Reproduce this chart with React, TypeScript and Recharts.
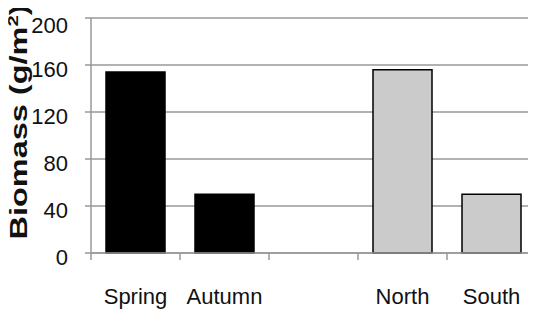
import React from "react";
import { BarChart, Bar, XAxis, YAxis, CartesianGrid, Cell, Label } from "recharts";

const categories = ["Spring", "Autumn", "", "North", "South"];
const biomass = [154, 50, null, 156, 50];
const barFills = ["#000000", "#000000", "#cbcbcb", "#cbcbcb", "#cbcbcb"];
const yTicks = [0, 40, 80, 120, 160, 200];
const boundaryTicks = [0, 1, 2, 3, 4, 5];

const data = categories.map((name, i) => ({ name, value: biomass[i], slot: i + 0.5 }));

const FONT = "'Liberation Sans', Arial, sans-serif";
const AXIS_GRAY = "#999999";

const YLabel = () => (
  <text
    x={19}
    y={114}
    transform="rotate(-90 19 114)"
    textAnchor="middle"
    fontFamily={FONT}
    fontWeight="bold"
    fontSize={24}
    fill="#111"
    textLength={235}
    lengthAdjust="spacingAndGlyphs"
  >
    Biomass (g/m
    <tspan fontSize={15} dy={-9}>2</tspan>
    <tspan dy={9}>)</tspan>
  </text>
);

const EmptyTick = () => <g />;

export default function App() {
  return (
    <BarChart
      width={536}
      height={305}
      data={data}
      margin={{ top: 10, right: 8, bottom: 58, left: 0 }}
      barCategoryGap={15}
    >
      <CartesianGrid vertical={false} stroke={AXIS_GRAY} strokeWidth={1.5} xAxisId="cat" />
      <XAxis
        xAxisId="bounds"
        dataKey="slot"
        type="number"
        domain={[0, 5]}
        allowDataOverflow={true}
        ticks={boundaryTicks}
        interval={0}
        height={1}
        axisLine={{ stroke: AXIS_GRAY, strokeWidth: 1.5 }}
        tickLine={{ stroke: AXIS_GRAY, strokeWidth: 1.5 }}
        tickSize={7}
        tick={EmptyTick}
      />
      <XAxis
        xAxisId="cat"
        dataKey="name"
        height={1}
        axisLine={false}
        tickLine={false}
        tickSize={0}
        tickMargin={34}
        interval={0}
        tick={{ fontSize: 22, fontFamily: FONT, fill: "#111" }}
      />
      <YAxis
        width={83}
        domain={[0, 200]}
        ticks={yTicks}
        axisLine={{ stroke: AXIS_GRAY, strokeWidth: 1.5 }}
        tickLine={{ stroke: AXIS_GRAY, strokeWidth: 1.5 }}
        tickSize={6}
        tickMargin={17}
        tick={{ fontSize: 22, fontFamily: FONT, fill: "#111", dy: 4 }}
      >
        <Label content={YLabel} />
      </YAxis>
      <Bar dataKey="value" xAxisId="cat" isAnimationActive={false}>
        {data.map((d, i) => (
          <Cell
            key={i}
            fill={barFills[i]}
            stroke="#000000"
            strokeWidth={1.5}
          />
        ))}
      </Bar>
    </BarChart>
  );
}
